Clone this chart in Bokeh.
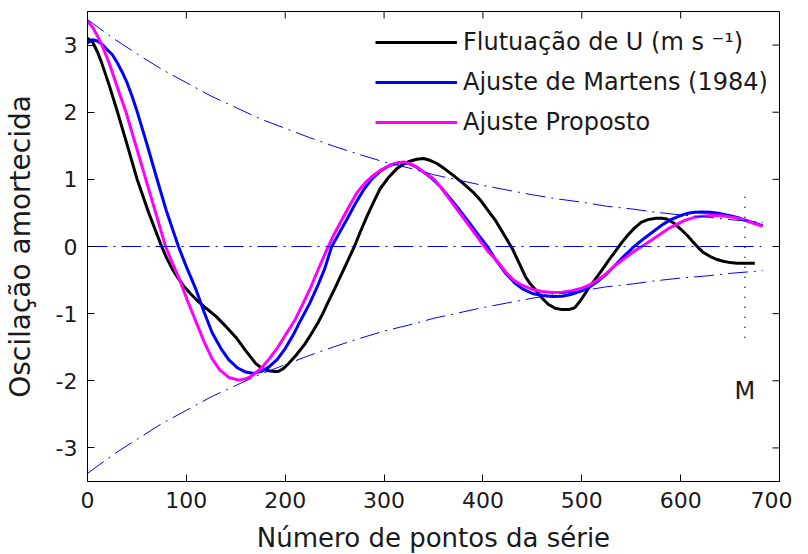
import math
from bokeh.plotting import figure
from bokeh.models import FixedTicker
from bokeh.core.properties import value
from bokeh.embed import file_html
from bokeh.resources import INLINE

# ---------------- data ----------------
x_ticks = [0, 100, 200, 300, 400, 500, 600, 700]
y_ticks = [-3, -2, -1, 0, 1, 2, 3]
x_lim = (0, 700)
y_lim = (-3.5, 3.5)

obs_x = [0, 5, 10, 14, 22, 30, 40, 50, 62, 75, 80, 86, 92, 98, 104, 110, 120, 130, 140, 150,
         160, 170, 177, 183, 188, 193, 198, 203, 211, 220, 226, 233, 238, 243, 250, 256, 263,
         270, 276, 283, 290, 296, 304, 313, 320, 326, 333, 340, 347, 353, 361, 370, 380, 390,
         398, 406, 413, 420, 430, 437, 443, 448, 453, 460, 466, 473, 480, 487, 493, 499, 506,
         513, 520, 527, 533, 540, 546, 553, 560, 567, 575, 581, 586, 593, 600, 607, 613, 618,
         623, 630, 636, 643, 650, 657, 663, 675]
obs_y = [3.10, 3.05, 2.90, 2.75, 2.40, 2.02, 1.52, 1.01, 0.50, 0.00, -0.17, -0.34, -0.48, -0.60, -0.70, -0.79, -0.92, -1.04, -1.19, -1.35,
         -1.55, -1.74, -1.82, -1.85, -1.86, -1.86, -1.82, -1.75, -1.62, -1.45, -1.31, -1.14, -1.00, -0.84, -0.63, -0.44, -0.22,
         0.00, 0.22, 0.46, 0.68, 0.86, 1.02, 1.16, 1.23, 1.27, 1.30, 1.31, 1.28, 1.24, 1.16, 1.06, 0.94, 0.81,
         0.68, 0.52, 0.38, 0.21, -0.04, -0.26, -0.45, -0.56, -0.64, -0.77, -0.86, -0.92, -0.94, -0.94, -0.91, -0.80, -0.64,
         -0.50, -0.36, -0.21, -0.09, 0.05, 0.16, 0.27, 0.36, 0.40, 0.42, 0.42, 0.41, 0.35, 0.26, 0.16, 0.06, -0.02,
         -0.09, -0.15, -0.19, -0.22, -0.24, -0.25, -0.25, -0.25]

mart_x = [0, 5, 10, 15, 20, 25, 30, 35, 40, 45, 50, 60, 70, 80, 92, 100, 110, 118, 126, 135, 143, 152, 160, 168,
          176, 183, 192, 200, 208, 216, 225, 233, 240, 247, 255, 263, 271, 280, 288, 296, 306, 316,
          324, 332, 340, 348, 357, 366, 376, 386, 395, 404, 413, 423, 432, 440, 450, 460, 470, 480,
          490, 500, 508, 516, 525, 533, 543, 553, 563, 573, 582, 590, 598, 606, 614, 622, 630, 640,
          650, 660, 670, 683]
mart_y = [3.03, 3.08, 3.06, 3.01, 2.93, 2.86, 2.74, 2.60, 2.44, 2.24, 2.02, 1.53, 1.02, 0.52, 0.00, -0.30, -0.65, -0.98, -1.28, -1.52, -1.69, -1.81, -1.87, -1.89,
          -1.86, -1.80, -1.68, -1.52, -1.32, -1.09, -0.84, -0.58, -0.33, 0.00, 0.21, 0.42, 0.64, 0.86, 1.01, 1.12, 1.21, 1.25,
          1.24, 1.19, 1.11, 1.02, 0.89, 0.73, 0.55, 0.36, 0.18, 0.01, -0.20, -0.40, -0.54, -0.63, -0.70, -0.73, -0.745, -0.74,
          -0.71, -0.66, -0.60, -0.52, -0.41, -0.29, -0.14, 0.00, 0.12, 0.23, 0.33, 0.40, 0.45, 0.49, 0.51, 0.515, 0.51, 0.49,
          0.46, 0.42, 0.37, 0.31]

prop_x = [0, 5, 10, 16, 22, 30, 39, 49, 59, 69, 79, 86, 93, 101, 110, 118, 126, 134, 143, 153,
          160, 166, 176, 184, 193, 201, 210, 218, 226, 234, 242, 249, 256, 264, 273, 281, 290, 298,
          306, 313, 320, 327, 333, 341, 350, 358, 366, 376, 386, 396, 406, 413, 423, 431, 440, 450,
          460, 470, 480, 490, 500, 508, 516, 525, 533, 543, 553, 565, 573, 580, 588, 596, 604, 613,
          621, 630, 638, 646, 655, 663, 673, 683]
prop_y = [3.36, 3.27, 3.14, 2.95, 2.73, 2.38, 2.00, 1.50, 1.00, 0.50, 0.00, -0.25, -0.49, -0.80, -1.13, -1.42, -1.67, -1.84, -1.95, -1.99,
          -1.97, -1.93, -1.81, -1.67, -1.49, -1.30, -1.09, -0.85, -0.60, -0.32, -0.05, 0.17, 0.36, 0.58, 0.81, 0.95, 1.07, 1.15,
          1.21, 1.245, 1.26, 1.23, 1.18, 1.10, 1.01, 0.87, 0.71, 0.51, 0.31, 0.11, -0.09, -0.19, -0.38, -0.50, -0.58, -0.64,
          -0.67, -0.685, -0.68, -0.66, -0.62, -0.57, -0.50, -0.40, -0.29, -0.18, -0.07, 0.04, 0.12, 0.19, 0.27, 0.33, 0.39, 0.43,
          0.45, 0.46, 0.46, 0.45, 0.43, 0.40, 0.35, 0.30]

env_x = [0, 25, 50, 75, 100, 125, 150, 175, 200, 225, 250, 275, 300, 325, 350,
         375, 400, 425, 450, 475, 500, 525, 550, 575, 600, 625, 650, 675, 683]
env_upper = [3.38, 3.11, 2.87, 2.64, 2.44, 2.24, 2.07, 1.90, 1.76, 1.62, 1.49, 1.37, 1.26, 1.17, 1.07,
             0.99, 0.91, 0.84, 0.77, 0.71, 0.66, 0.60, 0.56, 0.51, 0.47, 0.44, 0.40, 0.37, 0.36]
env_lower = [-3.38, -3.11, -2.87, -2.64, -2.44, -2.24, -2.07, -1.90, -1.76, -1.62, -1.49, -1.37, -1.26, -1.17, -1.07,
             -0.99, -0.91, -0.84, -0.77, -0.71, -0.66, -0.60, -0.56, -0.51, -0.47, -0.44, -0.40, -0.37, -0.36]

zero_x = [0, 683]
zero_y = [0, 0]

m_x = [665, 665]
m_line_y = [0.74, -1.39]
m_label_y = [-2.15]
m_label = ["M"]

labels = ["Flutuação de U (m s ⁻¹)", "Ajuste de Martens (1984)", "Ajuste Proposto"]

FONT = "DejaVu Sans"
TXT = "#1a1a1a"

p = figure(frame_width=692, frame_height=470, x_range=x_lim, y_range=y_lim,
           output_backend="svg", toolbar_location=None,
           min_border_left=87, min_border_top=11, min_border_right=13, min_border_bottom=65,
           background_fill_color="white", border_fill_color="white")
p.grid.visible = False
p.outline_line_color = "black"
p.outline_line_width = 1

p.xaxis.ticker = FixedTicker(ticks=x_ticks)
p.yaxis.ticker = FixedTicker(ticks=y_ticks)
p.xaxis.major_label_overrides = {t: str(t) for t in x_ticks}
p.yaxis.major_label_overrides = {t: str(t) for t in y_ticks}
p.xaxis.axis_label = "Número de pontos da série"
p.yaxis.axis_label = "Oscilação amortecida"
for ax in (p.xaxis[0], p.yaxis[0]):
    ax.major_tick_in = 7
    ax.major_tick_out = 0
    ax.minor_tick_line_color = None
    ax.axis_line_color = "black"
    ax.major_label_text_font = FONT
    ax.major_label_text_font_size = "22px"
    ax.major_label_text_color = TXT
    ax.axis_label_text_font = FONT
    ax.axis_label_text_font_style = "normal"
    ax.axis_label_text_color = TXT
p.xaxis.axis_label_text_font_size = "26px"
p.yaxis.axis_label_text_font_size = "28px"
p.xaxis.major_label_standoff = 10
p.yaxis.major_label_standoff = 10
p.xaxis.axis_label_standoff = 12
p.yaxis.axis_label_standoff = 16

# mirrored inward ticks on the right and top edges of the box
p.ray(x=[x_lim[1]] * len(y_ticks), y=y_ticks, length=7, length_units="screen",
      angle=math.pi, line_color="black", line_width=1)
p.ray(x=x_ticks, y=[y_lim[1]] * len(x_ticks), length=7, length_units="screen",
      angle=-math.pi / 2, line_color="black", line_width=1)

p.line(obs_x, obs_y, line_color="black", line_width=3, legend_label=labels[0])
p.line(mart_x, mart_y, line_color="#0000ff", line_width=3, legend_label=labels[1])
p.line(prop_x, prop_y, line_color="#ff00ff", line_width=3, legend_label=labels[2])

p.line(env_x, env_upper, line_color="#0000ff", line_width=1, line_dash="20 6 2 6")
p.line(env_x, env_lower, line_color="#0000ff", line_width=1, line_dash="20 6 2 6")
p.line(zero_x, zero_y, line_color="#0000ff", line_width=1, line_dash="20 6 2 6")

p.line(m_x, m_line_y, line_color="black", line_width=1.5, line_dash="1 9")
p.text(x=m_x[:1], y=m_label_y, text=m_label, text_align="center", text_baseline="middle",
       text_font=value(FONT), text_font_size="24px", text_color=TXT)

lg = p.legend[0]
lg.location = (288, 344)
lg.padding = 0
lg.margin = 0
lg.spacing = 10
lg.glyph_width = 82
lg.glyph_height = 30
lg.label_height = 30
lg.label_standoff = 6
lg.border_line_color = None
lg.background_fill_alpha = 0
lg.label_text_font = FONT
lg.label_text_font_size = "24px"
lg.label_text_color = TXT

open("out.html", "w").write(file_html(p, INLINE))
